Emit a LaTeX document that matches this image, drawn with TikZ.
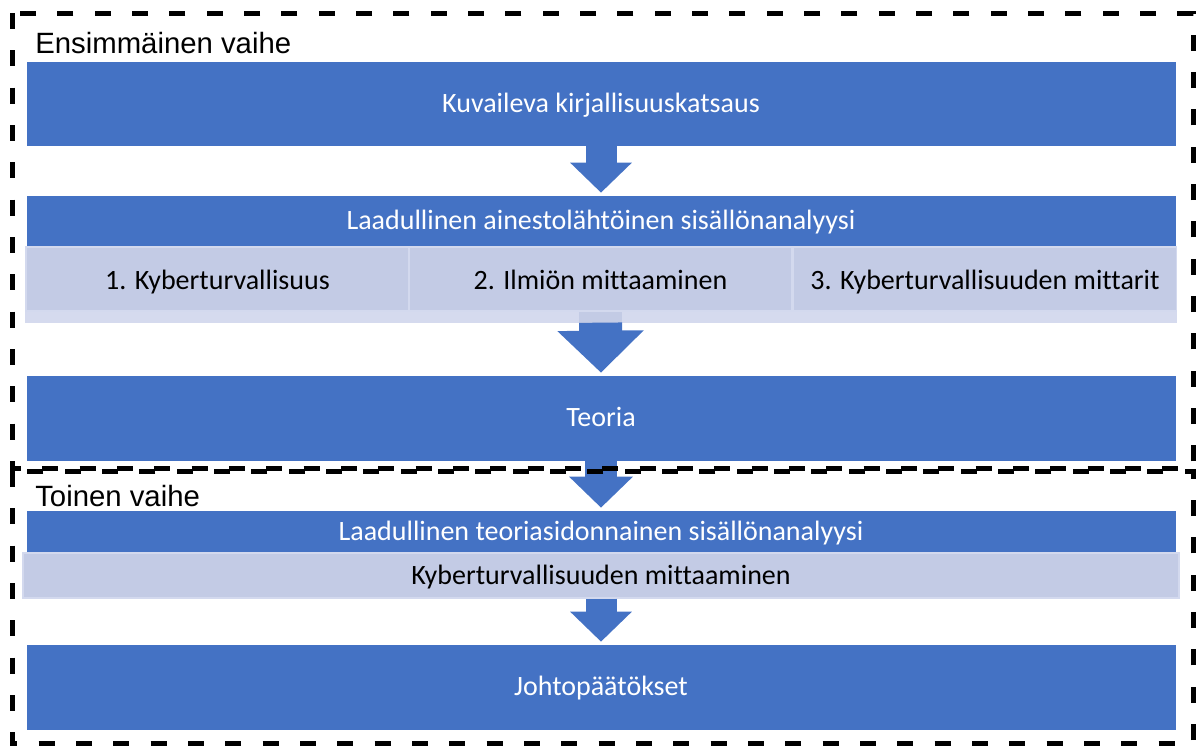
\documentclass[tikz,border=0pt]{standalone}
\usepackage{fontspec}
\setmainfont[Ligatures=NoCommon]{Carlito}
\newfontfamily\vaihefont{Liberation Sans}
\usetikzlibrary{arrows.meta,calc}

\definecolor{accblue}{HTML}{4472C4}
\definecolor{rowfill}{HTML}{C3CBE5}
\definecolor{stripfill}{HTML}{D5DAEE}
\definecolor{cellline}{HTML}{D3D9EE}

\tikzset{
  phasebox/.style={draw=black, line width=3.75pt, dash pattern=on 12pt off 16pt},
  phaselabel/.style={anchor=base west, inner sep=0pt, font=\vaihefont\fontsize{22}{26}\selectfont},
  bluebox/.style={fill=accblue, draw=white, line width=0.5pt, text=white, inner sep=0pt,
    text height=15pt, text depth=2pt, minimum width=862.5pt, font=\fontsize{21}{25}\selectfont},
  lightbox/.style={fill=rowfill, draw=cellline, line width=1pt, text=black, inner sep=0pt,
    text height=15pt, text depth=2pt, font=\fontsize{21}{25}\selectfont},
  blockarrow/.style={draw=accblue, shorten >=1.5pt}
}

\begin{document}
\begin{tikzpicture}[x=0.75pt,y=-0.75pt]
	\useasboundingbox (0,0) rectangle (1202,746);

	% ensimmainen vaihe
	\node[bluebox, minimum height=63.75pt] (kirj) at (601,103.5) {Kuvaileva kirjallisuuskatsaus};
	\node[bluebox, minimum height=39pt] (ainest) at (601,221) {Laadullinen ainestolähtöinen sisällönanalyysi};

	\foreach \x/\name/\txt in {217.5/luokka1/1. Kyberturvallisuus,
	                           600.5/luokka2/2. Ilmiön mittaaminen,
	                           985/luokka3/3. Kyberturvallisuuden mittarit}{
	  \node[lightbox, minimum width=287.25pt, minimum height=48pt, text height=17pt, text depth=1pt] (\name) at (\x,279) {\txt};
	}
	\fill[stripfill] (luokka1.south west) rectangle ($(luokka3.south east)+(0,11)$);
	\fill[rowfill] ($(luokka2.south)+(-21.5,0)$) rectangle ($(luokka2.south)+(21.5,11)$);
	\coordinate (luokkaala) at ($(luokka2.south)+(0,11)$);

	\node[bluebox, minimum height=64.5pt] (teoria) at (601,418) {Teoria};

	% toinen vaihe
	\node[bluebox, minimum height=32.25pt] (tsis) at (601,531.5) {Laadullinen teoriasidonnainen sisällönanalyysi};
	\node[lightbox, minimum width=867pt, minimum height=33.75pt] (mitt) at (601,575.5) {Kyberturvallisuuden mittaaminen};
	\node[bluebox, minimum height=64.5pt] (johto) at (601,687) {Johtopäätökset};

	% nuolet
	\draw[blockarrow, line width=23.25pt, -{Triangle[width=45pt,length=22.5pt]}] (kirj.south) -- (ainest.north);
	\draw[blockarrow, line width=32.25pt, -{Triangle[width=63pt,length=31.5pt]}] (luokkaala) -- (teoria.north);
	\draw[blockarrow, line width=24pt, -{Triangle[width=46.5pt,length=23.25pt]}] (teoria.south) -- (tsis.north);
	\draw[blockarrow, line width=23.25pt, -{Triangle[width=45pt,length=22.5pt]}] (mitt.south) -- (johto.north);

	% katkoviivat
	\draw[phasebox] (12,13) rectangle (1193,468);
	\draw[phasebox] (12,471) rectangle (1193,743);

	\node[phaselabel] (vaihe1) at (35,53) {Ensimmäinen vaihe};
	\node[phaselabel] (vaihe2) at (35,506) {Toinen vaihe};
\end{tikzpicture}
\end{document}
